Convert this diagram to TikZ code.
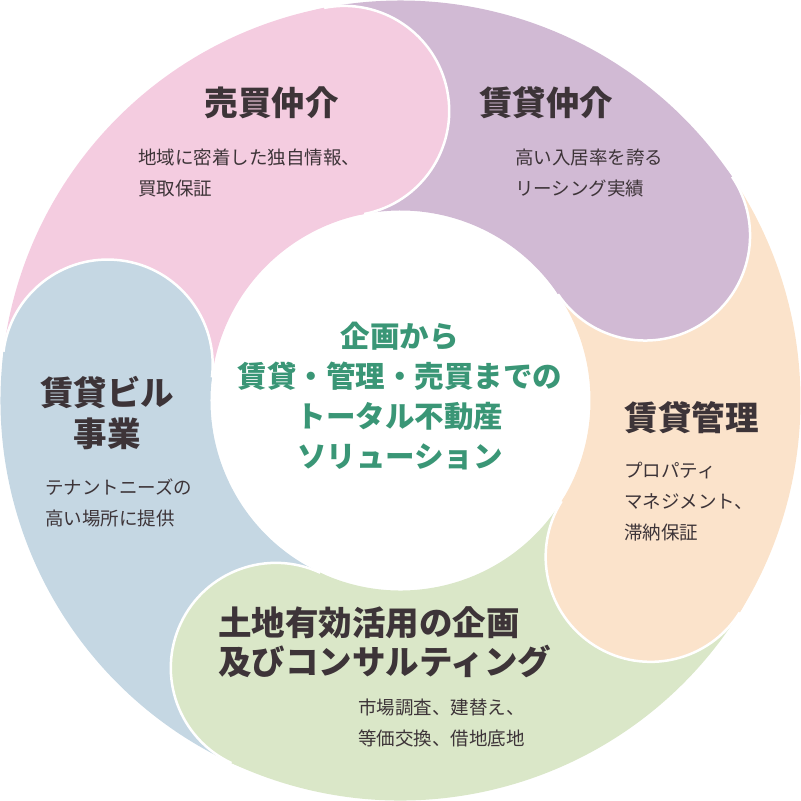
\documentclass[tikz,border=0pt]{standalone}
\usepackage{fontspec}
\setmainfont{Noto Sans CJK JP}
\definecolor{baibai}{HTML}{F4CCE0}
\definecolor{chintai}{HTML}{D1BAD4}
\definecolor{kanri}{HTML}{FBE3CB}
\definecolor{tochi}{HTML}{DAE7C8}
\definecolor{biru}{HTML}{C5D7E3}
\definecolor{inkdark}{HTML}{3D3438}
\definecolor{inkgreen}{HTML}{3A9676}
\tikzset{
  headtext/.style={text=inkdark, font=\fontsize{33.5}{41}\selectfont\bfseries, inner sep=0pt},
  notetext/.style={text=inkdark, font=\fontsize{18.5}{31}\selectfont, inner sep=0pt, align=left, anchor=west},
  capline/.style={white, line width=2.5pt},
}
\begin{document}
\begin{tikzpicture}[x=1pt, y=1pt]
		\useasboundingbox (-400.5,-400.5) rectangle (400.5,400.5);
		
		% 1. Ring bands (each runs clockwise up to its own rounded end)
		\fill[biru] (245:400) arc[start angle=245, end angle=173, radius=400] -- (173:190) arc[start angle=173, end angle=245, radius=190] -- cycle;
		\fill[baibai] (173:400) arc[start angle=173, end angle=101, radius=400] -- (101:190) arc[start angle=101, end angle=173, radius=190] -- cycle;
		\fill[chintai] (101:400) arc[start angle=101, end angle=34, radius=400] -- (34:190) arc[start angle=34, end angle=101, radius=190] -- cycle;
		\fill[kanri] (34:400) arc[start angle=34, end angle=-32, radius=400] -- (-32:190) arc[start angle=-32, end angle=34, radius=190] -- cycle;
		\fill[tochi] (-32:400) arc[start angle=-32, end angle=-115, radius=400] -- (-115:190) arc[start angle=-115, end angle=-32, radius=190] -- cycle;
		
		% 2. Rounded ends, laid over the next band (white rim on the round side only)
		\fill[biru] (173:295) circle[radius=105];
		\draw[capline] (173:400) arc[start angle=173, end angle=-7, radius=105];
		\fill[baibai] (101:295) circle[radius=105];
		\draw[capline] (101:400) arc[start angle=101, end angle=-79, radius=105];
		\fill[chintai] (34:295) circle[radius=105];
		\draw[capline] (34:400) arc[start angle=34, end angle=-146, radius=105];
		\fill[kanri] (-32:295) circle[radius=105];
		\draw[capline] (-32:400) arc[start angle=-32, end angle=-212, radius=105];
		\fill[tochi] (-115:295) circle[radius=105];
		\draw[capline] (-115:400) arc[start angle=-115, end angle=-295, radius=105];
		
		% 3. Segment titles and notes
		\node[headtext] (baibaiHead) at (-128.5, 297.5) {売買仲介};
		\node[notetext] (baibaiNote) at (-262.5, 228) {地域に密着した独自情報、\\買取保証};
		
		\node[headtext] (chintaiHead) at (146, 297.5) {賃貸仲介};
		\node[notetext] (chintaiNote) at (114.5, 228) {高い入居率を誇る\\リーシング実績};
		
		\node[headtext] (kanriHead) at (291, -17.5) {賃貸管理};
		\node[notetext] (kanriNote) at (223.5, -101.5) {プロパティ\\マネジメント、\\滞納保証};
		
		\node[headtext, align=center] (biruHead) at (-293, -12.5) {賃貸ビル\\事業};
		\node[notetext] (biruNote) at (-355.5, -102) {テナントニーズの\\高い場所に提供};
		
		\node[headtext, align=left, anchor=west, font=\fontsize{33.5}{39}\selectfont\bfseries] (tochiHead) at (-182.5, -242) {土地有効活用の企画\\及びコンサルティング};
		\node[notetext] (tochiNote) at (-42.5, -322.5) {市場調査、建替え、\\等価交換、借地底地};
		
		% 4. Centre message
		\node[text=inkgreen, inner sep=0pt, align=center, font=\fontsize{29.5}{40}\selectfont\bfseries] (hub) at (-0.5, 4.5) {企画から\\賃貸・管理・売買までの\\トータル不動産\\ソリューション};
		
	\end{tikzpicture}
\end{document}
